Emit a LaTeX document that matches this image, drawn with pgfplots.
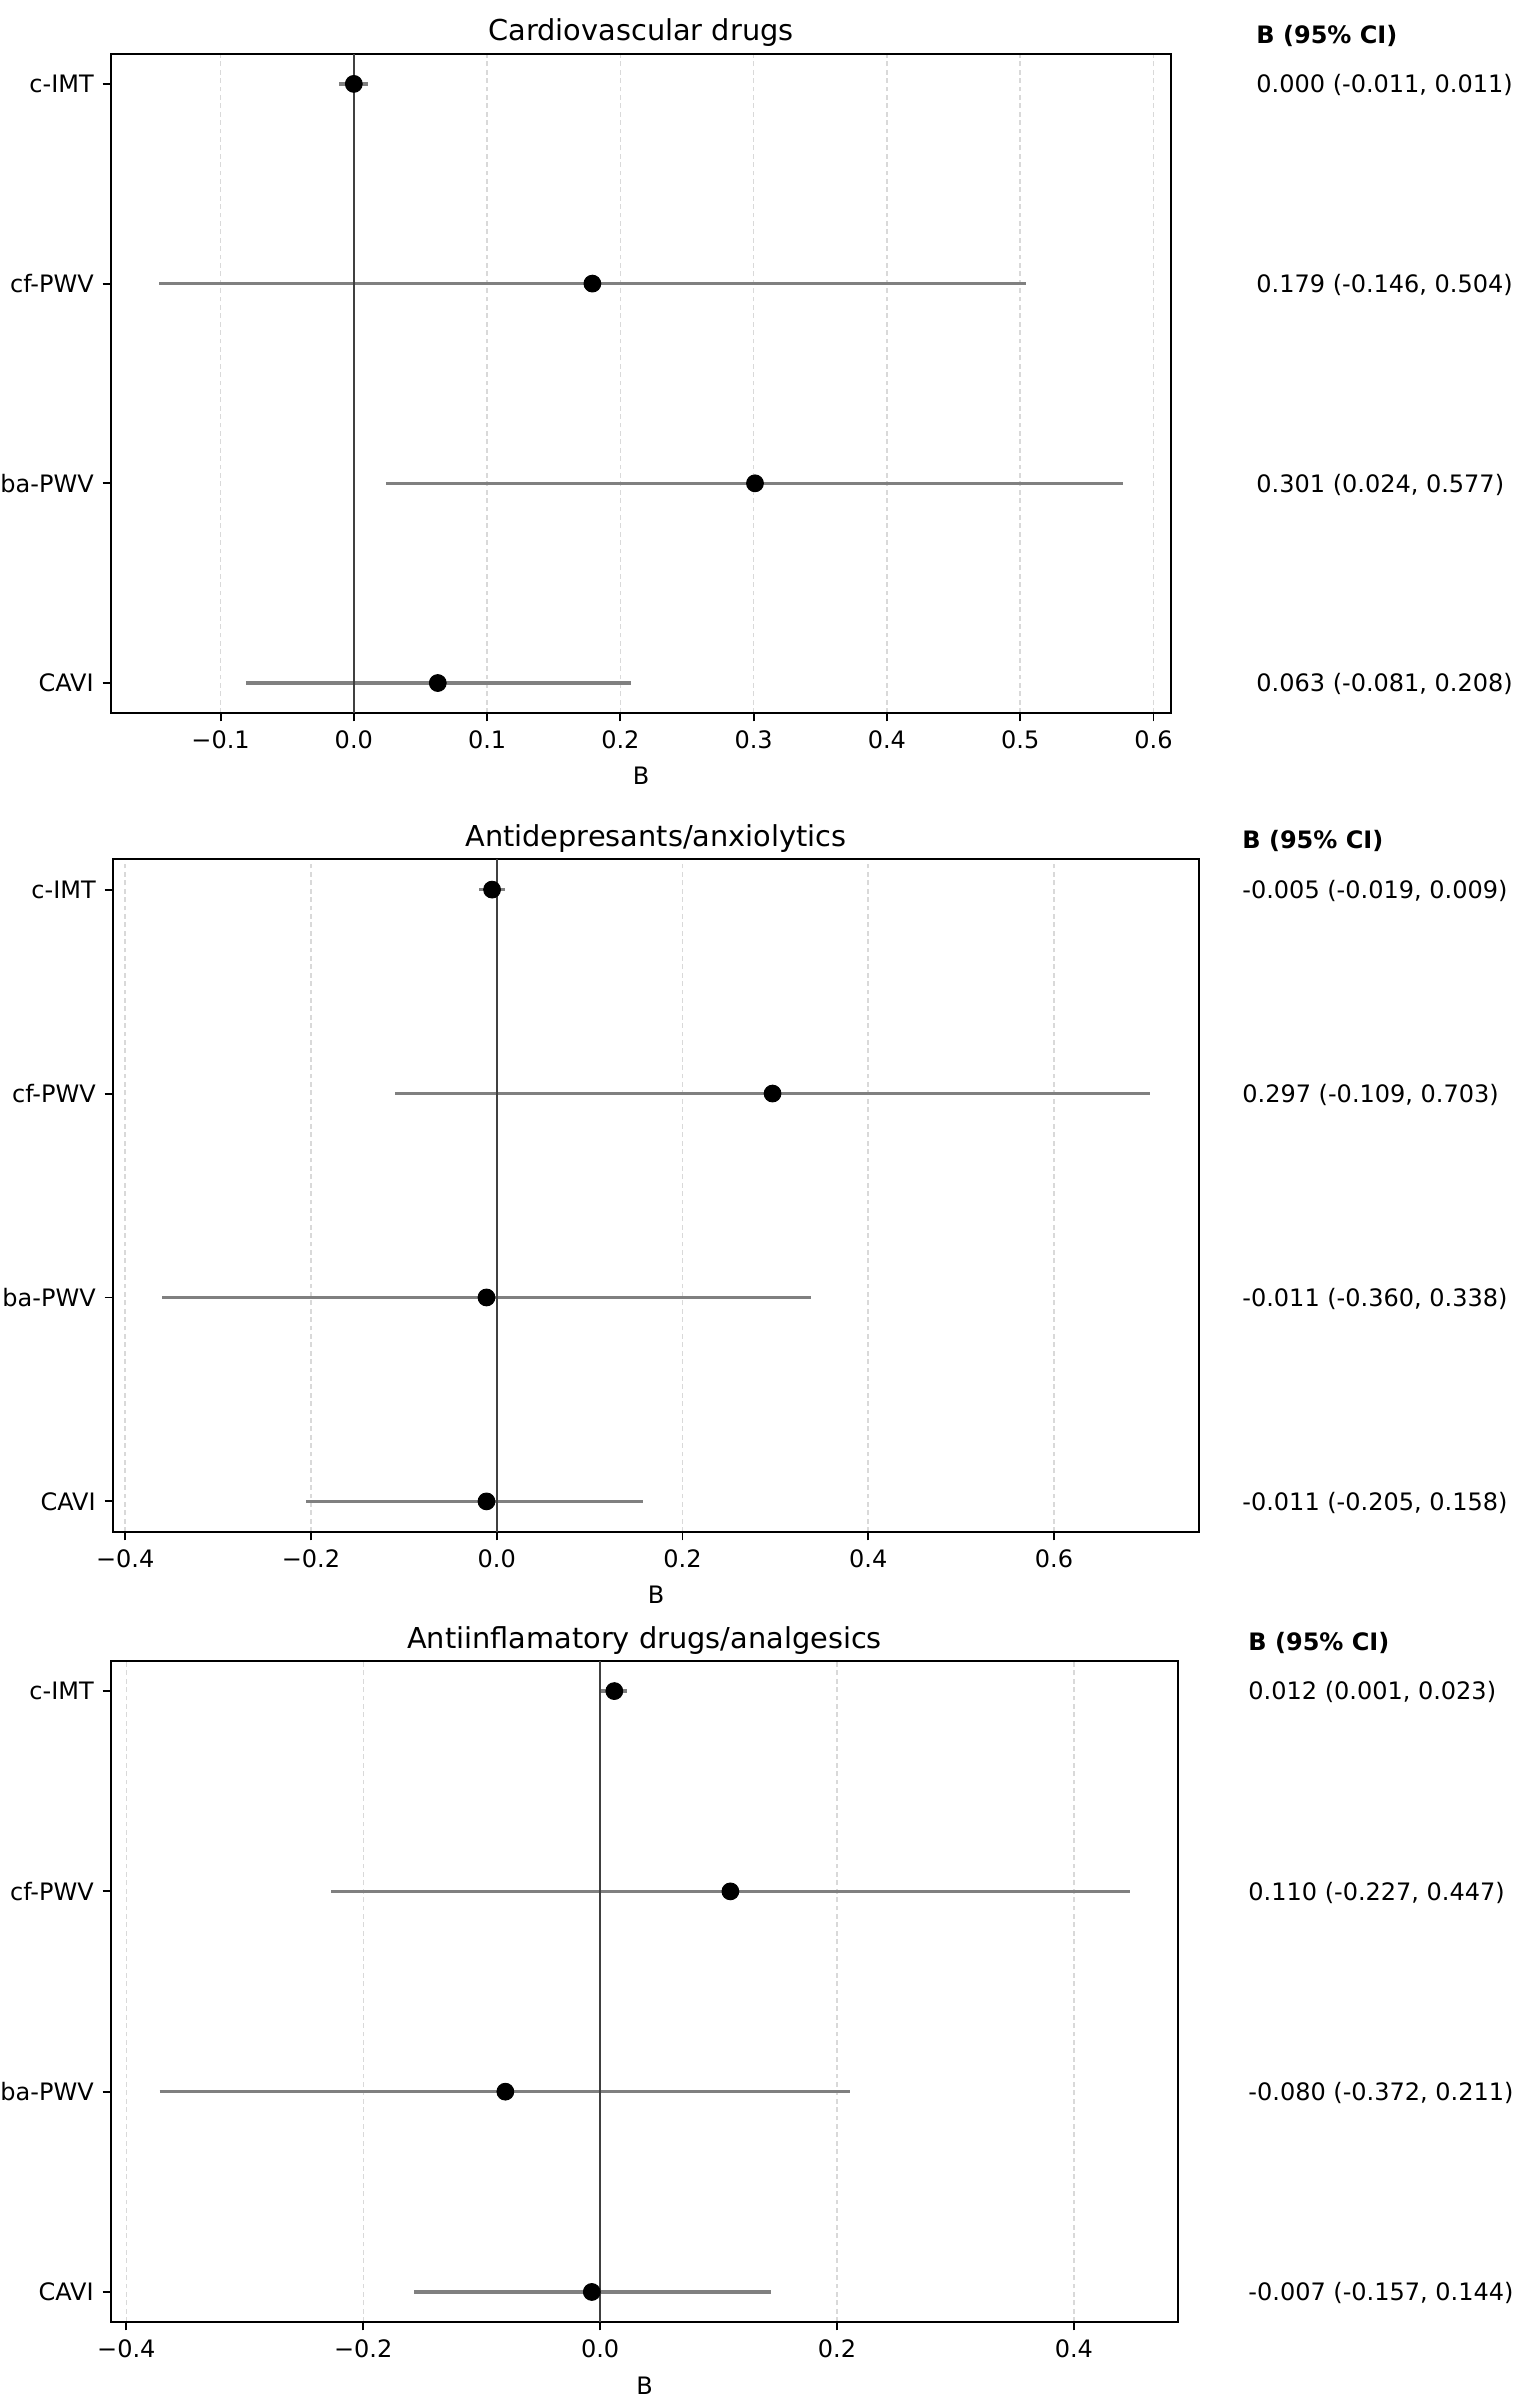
\documentclass[border=0pt]{standalone}
\usepackage{fontspec}
\setmainfont{DejaVu Sans}
\usepackage{pgfplots}
\pgfplotsset{compat=1.18}

\pgfplotsset{
  fp/.style={
    scale only axis, clip=false,
    axis line style={line width=0.9pt},
    ymin=-0.15, ymax=3.15,
    ytick={0,1,2,3}, yticklabels={CAVI,ba-PWV,cf-PWV,c-IMT},
    tick align=outside, major tick length=3.5pt,
    tick style={black, line width=0.8pt},
    xtick pos=bottom, ytick pos=left,
    xmajorgrids, ymajorgrids=false,
    grid style={gray!30, line width=0.6pt, dash pattern=on 2pt off 1.5pt},
    tick label style={font=\fontsize{10}{12}\selectfont},
    xticklabel style={anchor=north, inner sep=0pt, yshift=-3.5pt},
    yticklabel style={anchor=east, inner sep=0pt, xshift=-3.5pt},
    every axis title/.style={font=\fontsize{12}{14}\selectfont, at={(0.5,1)}, anchor=base, yshift=5.4pt},
    xlabel={B},
    xlabel style={font=\fontsize{10}{12}\selectfont, at={(axis description cs:0.5,0)}, anchor=base, yshift=-30pt},
  },
  ci/.style={gray, line width=1.5pt, forget plot},
  zl/.style={black!75, line width=1pt, forget plot},
  pt/.style={only marks, mark=*, mark size=3.5pt, black, forget plot},
}
\tikzset{
  txt/.style={anchor=base west, inner sep=0pt, font=\fontsize{10}{12}\selectfont, yshift=-3.7pt},
  hdr/.style={anchor=base west, inner sep=0pt, font=\fontsize{10}{12}\selectfont\bfseries, yshift=4.2pt},
}

\begin{document}
\begin{tikzpicture}
\useasboundingbox (0,0) rectangle (630.83pt,1002.08pt);

% ---------- Panel 1 ----------
\begin{axis}[fp, at={(46.25pt,705pt)}, anchor=south west,
  width=441.7pt, height=274.6pt,
  xmin=-0.1822, xmax=0.6132,
  xtick={-0.1,0,0.1,0.2,0.3,0.4,0.5,0.6},
  xticklabels={−0.1,0.0,0.1,0.2,0.3,0.4,0.5,0.6},
  title={Cardiovascular drugs}]
\addplot[ci] coordinates {(-0.011,3) (0.011,3)};
\addplot[ci] coordinates {(-0.146,2) (0.504,2)};
\addplot[ci] coordinates {(0.024,1) (0.577,1)};
\addplot[ci] coordinates {(-0.081,0) (0.208,0)};
\addplot[zl] coordinates {(0,-0.15) (0,3.15)};
\addplot[pt] coordinates {(0.000,3) (0.179,2) (0.301,1) (0.063,0)};
\node[hdr] at (axis cs:0.6769,3.15) {B (95\% CI)};
\node[txt] at (axis cs:0.6769,3) {0.000 (-0.011, 0.011)};
\node[txt] at (axis cs:0.6769,2) {0.179 (-0.146, 0.504)};
\node[txt] at (axis cs:0.6769,1) {0.301 (0.024, 0.577)};
\node[txt] at (axis cs:0.6769,0) {0.063 (-0.081, 0.208)};
\end{axis}

% ---------- Panel 2 ----------
\begin{axis}[fp, at={(47.08pt,363.75pt)}, anchor=south west,
  width=452.5pt, height=280.4pt,
  xmin=-0.41315, xmax=0.75615,
  xtick={-0.4,-0.2,0,0.2,0.4,0.6},
  xticklabels={−0.4,−0.2,0.0,0.2,0.4,0.6},
  title={Antidepresants/anxiolytics}]
\addplot[ci] coordinates {(-0.019,3) (0.009,3)};
\addplot[ci] coordinates {(-0.109,2) (0.703,2)};
\addplot[ci] coordinates {(-0.360,1) (0.338,1)};
\addplot[ci] coordinates {(-0.205,0) (0.158,0)};
\addplot[zl] coordinates {(0,-0.15) (0,3.15)};
\addplot[pt] coordinates {(-0.005,3) (0.297,2) (-0.011,1) (-0.011,0)};
\node[hdr] at (axis cs:0.8024,3.15) {B (95\% CI)};
\node[txt] at (axis cs:0.8024,3) {-0.005 (-0.019, 0.009)};
\node[txt] at (axis cs:0.8024,2) {0.297 (-0.109, 0.703)};
\node[txt] at (axis cs:0.8024,1) {-0.011 (-0.360, 0.338)};
\node[txt] at (axis cs:0.8024,0) {-0.011 (-0.205, 0.158)};
\end{axis}

% ---------- Panel 3 ----------
\begin{axis}[fp, at={(46.25pt,34.58pt)}, anchor=south west,
  width=444.6pt, height=275.4pt,
  xmin=-0.41295, xmax=0.48795,
  xtick={-0.4,-0.2,0,0.2,0.4},
  xticklabels={−0.4,−0.2,0.0,0.2,0.4},
  title={Antiinflamatory drugs/analgesics}]
\addplot[ci] coordinates {(0.001,3) (0.023,3)};
\addplot[ci] coordinates {(-0.227,2) (0.447,2)};
\addplot[ci] coordinates {(-0.372,1) (0.211,1)};
\addplot[ci] coordinates {(-0.157,0) (0.144,0)};
\addplot[zl] coordinates {(0,-0.15) (0,3.15)};
\addplot[pt] coordinates {(0.012,3) (0.110,2) (-0.080,1) (-0.007,0)};
\node[hdr] at (axis cs:0.547,3.15) {B (95\% CI)};
\node[txt] at (axis cs:0.547,3) {0.012 (0.001, 0.023)};
\node[txt] at (axis cs:0.547,2) {0.110 (-0.227, 0.447)};
\node[txt] at (axis cs:0.547,1) {-0.080 (-0.372, 0.211)};
\node[txt] at (axis cs:0.547,0) {-0.007 (-0.157, 0.144)};
\end{axis}
\end{tikzpicture}
\end{document}
